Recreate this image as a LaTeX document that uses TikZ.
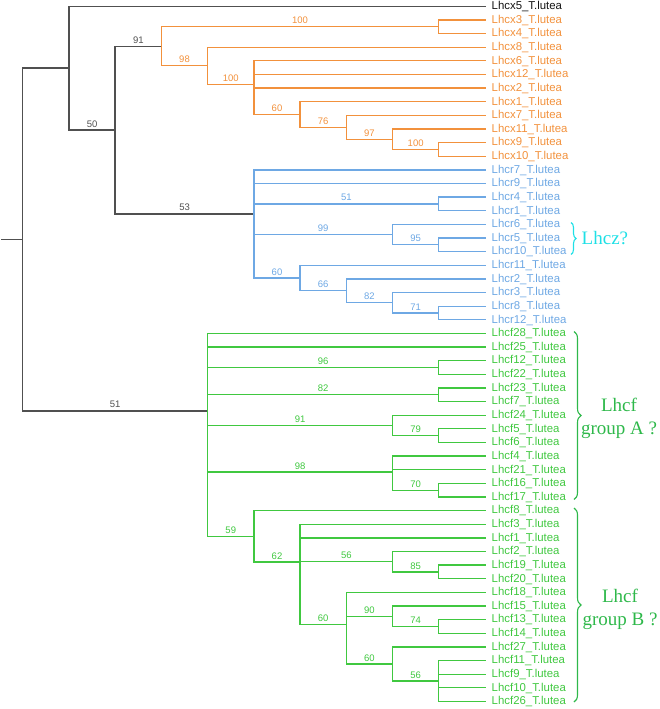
\documentclass[tikz,border=0pt]{standalone}
\usepackage{fontspec}
\setmainfont{Liberation Sans}
\newfontfamily\timesfont{Liberation Serif}
\usetikzlibrary{decorations.pathreplacing}
\definecolor{kx}{RGB}{20,20,20}
\definecolor{kline}{RGB}{80,80,80}
\definecolor{ox}{RGB}{242,145,60}
\definecolor{bx}{RGB}{110,168,228}
\definecolor{gx}{RGB}{64,200,64}
\definecolor{gtext}{RGB}{46,184,74}
\definecolor{cz}{RGB}{30,224,230}
\begin{document}
\begin{tikzpicture}[x=1pt,y=-1pt,
  br/.style={line width=1.3pt, line cap=rect},
  bk/.style={br, color=kline, line width=1.5pt},
  ob/.style={br, color=ox},
  bb/.style={br, color=bx},
  gb/.style={br, color=gx},
  boot/.style={pos=0.75, above, inner sep=2.2pt, font=\fontsize{9.5}{10}\selectfont},
  leaf/.style={anchor=base west, inner sep=0pt, font=\fontsize{11.4}{13}\selectfont},
  grp/.style={align=center, inner sep=0pt, font=\timesfont\fontsize{19}{23}\selectfont, text=gtext},
  brc/.style={line width=1.1pt, decorate, decoration={brace, amplitude=#1}},
]
\useasboundingbox (0,0) rectangle (659,709);

% leaves
\foreach \id/\col [count=\i from 0] in {
 x5/kx, x3/ox, x4/ox, x8/ox, x6/ox, x12/ox, x2/ox, x1/ox, x7/ox, x11/ox, x9/ox, x10/ox,
 r7/bx, r9/bx, r4/bx, r1/bx, r6/bx, r5/bx, r10/bx, r11/bx, r2/bx, r3/bx, r8/bx, r12/bx,
 f28/gx, f25/gx, f12/gx, f22/gx, f23/gx, f7/gx, f24/gx, f5/gx, f6/gx, f4/gx, f21/gx, f16/gx, f17/gx,
 f8/gx, f3/gx, f1/gx, f2/gx, f19/gx, f20/gx, f18/gx, f15/gx, f13/gx, f14/gx, f27/gx, f11/gx, f9/gx, f10/gx, f26/gx} {
  \coordinate (tip-\id) at (485, {6.3+13.63*\i});
  \node[leaf, text=\col] (lab-\id) at (491.5, {9.6+13.63*\i}) {Lhc\id\_T.lutea};
}

% internal nodes (x levels 22.7 + 46.23 k)
\coordinate (rs) at (1.5, 239.57);
\coordinate (root) at (22.7, 239.57);
\coordinate (nA) at (68.9, 68.22);
\coordinate (nB) at (115.2, 130.14);
\coordinate (nx91) at (161.4, 46.29);
\coordinate (nx34) at (438.8, 26.75);
\coordinate (nx98) at (207.6, 65.83);
\coordinate (nx100) at (253.9, 84.46);
\coordinate (nx60) at (300.1, 114.49);
\coordinate (nx76) at (346.3, 127.27);
\coordinate (nx97) at (392.5, 139.19);
\coordinate (nx910) at (438.8, 149.42);
\coordinate (nR) at (253.9, 213.99);
\coordinate (nr51) at (438.8, 203.94);
\coordinate (nr99) at (392.5, 234.60);
\coordinate (nr95) at (438.8, 244.83);
\coordinate (nr60) at (300.1, 278.05);
\coordinate (nr66) at (346.3, 290.83);
\coordinate (nr82) at (392.5, 302.75);
\coordinate (nr71) at (438.8, 312.98);
\coordinate (nF) at (207.6, 410.92);
\coordinate (nf96) at (438.8, 367.50);
\coordinate (nf82) at (438.8, 394.76);
\coordinate (nf91) at (392.5, 425.43);
\coordinate (nf79) at (438.8, 435.65);
\coordinate (nf98) at (392.5, 471.99);
\coordinate (nf70) at (438.8, 490.17);
\coordinate (nf59) at (253.9, 536.31);
\coordinate (nf62) at (300.1, 562.01);
\coordinate (nf56) at (392.5, 561.73);
\coordinate (nf85) at (438.8, 571.95);
\coordinate (nf60) at (346.3, 624.20);
\coordinate (nf90) at (392.5, 616.25);
\coordinate (nf74) at (438.8, 626.47);
\coordinate (nf60b) at (392.5, 663.95);
\coordinate (nf56b) at (438.8, 680.99);

% backbone
\draw[bk] (rs) -- (root);
\draw[bk] (root) |- (nA);
\draw[bk] (root) |- node[boot]{51} (nF);
\draw[bk] (nA) |- (tip-x5);
\draw[bk] (nA) |- node[boot]{50} (nB);
\draw[bk] (nB) |- node[boot]{91} (nx91);
\draw[bk] (nB) |- node[boot]{53} (nR);

% Lhcx
\draw[ob] (nx91) |- node[boot]{100} (nx34);
\draw[ob] (nx91) |- node[boot]{98} (nx98);
\draw[ob] (nx34) |- (tip-x3);
\draw[ob] (nx34) |- (tip-x4);
\draw[ob] (nx98) |- (tip-x8);
\draw[ob] (nx98) |- node[boot]{100} (nx100);
\draw[ob] (nx100) |- (tip-x6);
\draw[ob] (nx100) |- (tip-x12);
\draw[ob] (nx100) |- (tip-x2);
\draw[ob] (nx100) |- node[boot]{60} (nx60);
\draw[ob] (nx60) |- (tip-x1);
\draw[ob] (nx60) |- node[boot]{76} (nx76);
\draw[ob] (nx76) |- (tip-x7);
\draw[ob] (nx76) |- node[boot]{97} (nx97);
\draw[ob] (nx97) |- (tip-x11);
\draw[ob] (nx97) |- node[boot]{100} (nx910);
\draw[ob] (nx910) |- (tip-x9);
\draw[ob] (nx910) |- (tip-x10);

% Lhcr
\draw[bb] (nR) |- (tip-r7);
\draw[bb] (nR) |- (tip-r9);
\draw[bb] (nR) |- node[boot]{51} (nr51);
\draw[bb] (nR) |- node[boot]{99} (nr99);
\draw[bb] (nR) |- node[boot]{60} (nr60);
\draw[bb] (nr51) |- (tip-r4);
\draw[bb] (nr51) |- (tip-r1);
\draw[bb] (nr99) |- (tip-r6);
\draw[bb] (nr99) |- node[boot]{95} (nr95);
\draw[bb] (nr95) |- (tip-r5);
\draw[bb] (nr95) |- (tip-r10);
\draw[bb] (nr60) |- (tip-r11);
\draw[bb] (nr60) |- node[boot]{66} (nr66);
\draw[bb] (nr66) |- (tip-r2);
\draw[bb] (nr66) |- node[boot]{82} (nr82);
\draw[bb] (nr82) |- (tip-r3);
\draw[bb] (nr82) |- node[boot]{71} (nr71);
\draw[bb] (nr71) |- (tip-r8);
\draw[bb] (nr71) |- (tip-r12);

% Lhcf
\draw[gb] (nF) |- (tip-f28);
\draw[gb] (nF) |- (tip-f25);
\draw[gb] (nF) |- node[boot]{96} (nf96);
\draw[gb] (nF) |- node[boot]{82} (nf82);
\draw[gb] (nF) |- node[boot]{91} (nf91);
\draw[gb] (nF) |- node[boot]{98} (nf98);
\draw[gb] (nF) |- node[boot]{59} (nf59);
\draw[gb] (nf96) |- (tip-f12);
\draw[gb] (nf96) |- (tip-f22);
\draw[gb] (nf82) |- (tip-f23);
\draw[gb] (nf82) |- (tip-f7);
\draw[gb] (nf91) |- (tip-f24);
\draw[gb] (nf91) |- node[boot]{79} (nf79);
\draw[gb] (nf79) |- (tip-f5);
\draw[gb] (nf79) |- (tip-f6);
\draw[gb] (nf98) |- (tip-f4);
\draw[gb] (nf98) |- (tip-f21);
\draw[gb] (nf98) |- node[boot]{70} (nf70);
\draw[gb] (nf70) |- (tip-f16);
\draw[gb] (nf70) |- (tip-f17);
\draw[gb] (nf59) |- (tip-f8);
\draw[gb] (nf59) |- node[boot]{62} (nf62);
\draw[gb] (nf62) |- (tip-f3);
\draw[gb] (nf62) |- (tip-f1);
\draw[gb] (nf62) |- node[boot]{56} (nf56);
\draw[gb] (nf62) |- node[boot]{60} (nf60);
\draw[gb] (nf56) |- (tip-f2);
\draw[gb] (nf56) |- node[boot]{85} (nf85);
\draw[gb] (nf85) |- (tip-f19);
\draw[gb] (nf85) |- (tip-f20);
\draw[gb] (nf60) |- (tip-f18);
\draw[gb] (nf60) |- node[boot]{90} (nf90);
\draw[gb] (nf60) |- node[boot]{60} (nf60b);
\draw[gb] (nf90) |- (tip-f15);
\draw[gb] (nf90) |- node[boot]{74} (nf74);
\draw[gb] (nf74) |- (tip-f13);
\draw[gb] (nf74) |- (tip-f14);
\draw[gb] (nf60b) |- (tip-f27);
\draw[gb] (nf60b) |- node[boot]{56} (nf56b);
\draw[gb] (nf56b) |- (tip-f11);
\draw[gb] (nf56b) |- (tip-f9);
\draw[gb] (nf56b) |- (tip-f10);
\draw[gb] (nf56b) |- (tip-f26);

% braces and group labels
\coordinate (bz1) at (571, 222.5);
\coordinate (bz2) at (571, 254.5);
\draw[brc=5pt, color=cz] (bz1) -- (bz2);
\node[anchor=base west, inner sep=0pt, font=\timesfont\fontsize{19}{23}\selectfont, text=cz] (lhcz) at (581.5, 244.5) {Lhcz?};

\coordinate (ba1) at (574, 331.5);
\coordinate (ba2) at (574, 499.5);
\draw[brc=7pt, color=gtext] (ba1) -- (ba2);
\node[grp] (grpA) at (619, 418.5) {Lhcf\\group A ?};

\coordinate (bb1) at (574, 508);
\coordinate (bb2) at (574, 702);
\draw[brc=7pt, color=gtext] (bb1) -- (bb2);
\node[grp] (grpB) at (620, 609) {Lhcf\\group B ?};
\end{tikzpicture}
\end{document}
